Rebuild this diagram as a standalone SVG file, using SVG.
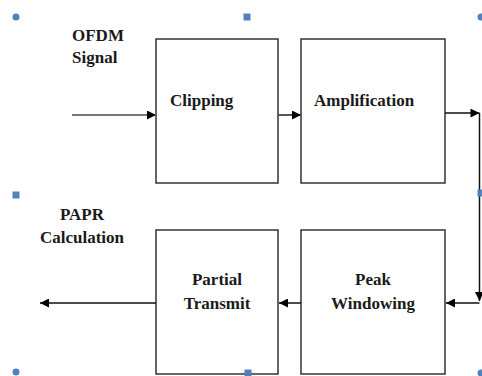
<svg xmlns="http://www.w3.org/2000/svg" width="482" height="376" viewBox="0 0 482 376">
<style>
.box{fill:#fff;stroke:#333;stroke-width:1.5}
.t{font-family:"Liberation Serif","Times New Roman",serif;font-weight:bold;font-size:17px;fill:#1a1a1a}
.c{text-anchor:middle}
.ln{fill:none;stroke:#111;stroke-width:1.5}
.h{fill:#4f81bd}
</style>
<defs>
<marker id="ah" viewBox="0 0 10 10" refX="10" refY="5" markerWidth="10" markerHeight="9" markerUnits="userSpaceOnUse" orient="auto">
<path d="M0,0 L10,5 L0,10 z" fill="#000"/>
</marker>
</defs>
<rect width="482" height="376" fill="#fff"/>
<g id="label-ofdm">
<text class="t" x="72" y="41">OFDM</text>
<text class="t" x="72" y="63">Signal</text>
</g>
<g id="label-papr">
<text class="t c" x="82" y="220">PAPR</text>
<text class="t c" x="82" y="243">Calculation</text>
</g>
<g id="clipping">
<rect class="box" x="156" y="39" width="122" height="144"/>
<text class="t" x="170" y="106">Clipping</text>
</g>
<g id="amplification">
<rect class="box" x="301" y="39" width="144" height="144"/>
<text class="t" x="314" y="106">Amplification</text>
</g>
<g id="partial-transmit">
<rect class="box" x="156" y="230" width="122" height="144"/>
<text class="t c" x="217" y="285">Partial</text>
<text class="t c" x="217" y="309">Transmit</text>
</g>
<g id="peak-windowing">
<rect class="box" x="301" y="230" width="144" height="144"/>
<text class="t c" x="373" y="285">Peak</text>
<text class="t c" x="373" y="309">Windowing</text>
</g>
<g id="connectors">
<path class="ln" d="M72,115 H156" style="stroke:#777;stroke-width:2" marker-end="url(#ah)"/>
<path class="ln" d="M278,115 H301" style="stroke:#555;stroke-width:2" marker-end="url(#ah)"/>
<path class="ln" d="M445,113 H479.5" marker-end="url(#ah)"/>
<path class="ln" d="M479.5,113 V301" marker-end="url(#ah)"/>
<path class="ln" d="M479.5,303 H446" marker-end="url(#ah)"/>
<path class="ln" d="M301,303 H279" marker-end="url(#ah)"/>
<path class="ln" d="M156,303 H40" marker-end="url(#ah)"/>
</g>
<g id="handles">
<circle class="h" cx="16" cy="17" r="3.5"/>
<rect class="h" x="243.5" y="13.5" width="7" height="7"/>
<circle class="h" cx="481" cy="17" r="3.5"/>
<rect class="h" x="12.5" y="191.5" width="7" height="7"/>
<rect class="h" x="477.5" y="189.5" width="7" height="7"/>
<circle class="h" cx="16" cy="372" r="3.5"/>
<rect class="h" x="244.5" y="369.5" width="7" height="7"/>
<circle class="h" cx="481" cy="373" r="3.5"/>
</g>
</svg>
